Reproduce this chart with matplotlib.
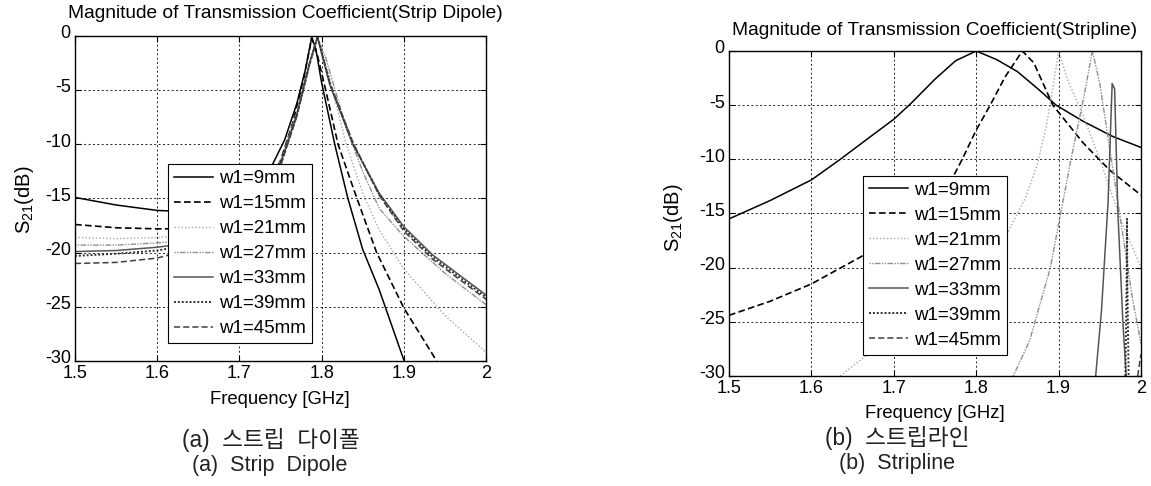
import matplotlib
matplotlib.use("Agg")
import matplotlib.pyplot as plt
from matplotlib.transforms import ScaledTranslation

plt.rcParams['font.family'] = ['Liberation Sans', 'Noto Sans CJK KR', 'DejaVu Sans']
plt.rcParams['mathtext.default'] = 'regular'
plt.rcParams['axes.unicode_minus'] = False

# ---------------- data ----------------
width_labels = ["w1=9mm", "w1=15mm", "w1=21mm", "w1=27mm", "w1=33mm", "w1=39mm", "w1=45mm"]
x_ticks = [1.5, 1.6, 1.7, 1.8, 1.9, 2.0]
x_tick_labels = ["1.5", "1.6", "1.7", "1.8", "1.9", "2"]
y_ticks = [0, -5, -10, -15, -20, -25, -30]

# Strip dipole, S21 [dB] versus frequency [GHz]
dip_f_9 = [1.50, 1.55, 1.60, 1.63, 1.67, 1.70, 1.72, 1.74, 1.755, 1.77, 1.78, 1.788, 1.793, 1.80, 1.816, 1.832, 1.85, 1.87, 1.90]
dip_s_9 = [-14.9, -15.6, -16.1, -16.2, -15.8, -15.0, -13.8, -11.9, -9.6, -6.2, -3.2, -0.1, -1.2, -4.3, -10.0, -15.0, -19.7, -23.4, -29.9]
dip_f_15 = [1.50, 1.55, 1.60, 1.63, 1.67, 1.70, 1.73, 1.75, 1.765, 1.778, 1.788, 1.795, 1.805, 1.82, 1.843, 1.867, 1.90, 1.94]
dip_s_15 = [-17.4, -17.7, -17.8, -17.8, -17.3, -16.4, -14.5, -11.5, -8.0, -4.0, -0.2, -1.8, -5.0, -10.0, -15.0, -20.0, -25.1, -30.0]
dip_f_21 = [1.50, 1.55, 1.60, 1.63, 1.67, 1.70, 1.73, 1.75, 1.77, 1.785, 1.795, 1.805, 1.83, 1.85, 1.87, 1.90, 1.95, 2.00]
dip_s_21 = [-18.6, -18.7, -18.6, -18.4, -17.8, -16.8, -14.5, -11.5, -7.0, -2.5, -0.2, -2.5, -10.0, -14.5, -17.9, -21.5, -25.8, -29.2]
dip_f_27 = [1.50, 1.55, 1.60, 1.63, 1.67, 1.70, 1.73, 1.75, 1.77, 1.785, 1.795, 1.805, 1.83, 1.85, 1.87, 1.90, 1.95, 2.00]
dip_s_27 = [-19.3, -19.3, -19.1, -18.9, -18.2, -17.2, -14.8, -11.7, -7.1, -2.6, -0.1, -2.0, -8.5, -12.5, -15.9, -18.5, -21.9, -24.8]
dip_f_33 = [1.50, 1.55, 1.60, 1.63, 1.67, 1.70, 1.73, 1.75, 1.77, 1.785, 1.795, 1.81, 1.838, 1.87, 1.90, 1.935, 1.97, 2.00]
dip_s_33 = [-19.9, -19.8, -19.5, -19.2, -18.5, -17.4, -15.0, -11.8, -7.2, -2.6, -0.1, -4.5, -10.0, -14.5, -17.6, -20.2, -22.2, -23.9]
dip_f_39 = [1.50, 1.55, 1.60, 1.63, 1.67, 1.70, 1.73, 1.75, 1.77, 1.785, 1.795, 1.81, 1.838, 1.87, 1.90, 1.935, 1.97, 2.00]
dip_s_39 = [-20.3, -20.1, -19.8, -19.4, -18.7, -17.6, -15.1, -11.9, -7.3, -2.7, -0.1, -4.4, -9.9, -14.6, -17.8, -20.4, -22.4, -24.1]
dip_f_45 = [1.50, 1.55, 1.60, 1.63, 1.67, 1.70, 1.73, 1.75, 1.77, 1.785, 1.795, 1.81, 1.838, 1.87, 1.90, 1.935, 1.97, 2.00]
dip_s_45 = [-21.0, -20.9, -20.5, -19.9, -19.0, -17.8, -15.2, -12.0, -7.4, -2.7, -0.1, -4.3, -9.8, -14.7, -18.0, -20.6, -22.6, -24.3]

# Stripline, S21 [dB] versus frequency [GHz]
sl_f_9 = [1.50, 1.55, 1.60, 1.635, 1.67, 1.70, 1.72, 1.75, 1.775, 1.80, 1.825, 1.85, 1.875, 1.897, 1.93, 1.966, 2.00]
sl_s_9 = [-15.5, -13.8, -11.9, -10.0, -8.0, -6.3, -4.9, -2.6, -0.9, 0.0, -0.8, -1.9, -3.5, -5.0, -6.5, -7.9, -8.9]
sl_f_15 = [1.50, 1.55, 1.60, 1.66, 1.70, 1.74, 1.772, 1.783, 1.80, 1.817, 1.835, 1.856, 1.87, 1.893, 1.93, 1.962, 2.00]
sl_s_15 = [-24.4, -23.1, -21.5, -19.0, -17.0, -14.3, -11.6, -10.0, -7.3, -5.0, -2.4, 0.0, -1.1, -5.0, -8.5, -11.0, -13.3]
sl_f_21 = [1.635, 1.66, 1.70, 1.75, 1.80, 1.838, 1.86, 1.874, 1.885, 1.895, 1.90, 1.91, 1.93, 1.95, 1.975, 2.00]
sl_s_21 = [-30.0, -28.5, -26.3, -23.3, -19.8, -16.8, -13.5, -10.5, -7.0, -2.5, 0.0, -2.5, -6.0, -10.0, -15.5, -20.0]
sl_f_27 = [1.845, 1.865, 1.89, 1.915, 1.93, 1.941, 1.95, 1.96, 1.97, 1.98, 1.99, 2.00]
sl_s_27 = [-30.0, -26.7, -20.0, -10.0, -4.5, 0.0, -3.0, -8.0, -13.0, -18.0, -23.0, -27.0]
sl_f_33 = [1.945, 1.952, 1.960, 1.965, 1.968, 1.972, 1.978, 1.982]
sl_s_33 = [-30.0, -24.0, -14.0, -3.0, -3.5, -15.0, -25.0, -30.0]
sl_f_39 = [1.981, 1.9825, 1.983, 1.9835, 1.985]
sl_s_39 = [-30.0, -22.0, -15.5, -22.0, -30.0]
sl_f_45 = [1.996, 2.00]
sl_s_45 = [-30.0, -28.0]

# ---------------- styles ----------------
styles = [
    dict(color="black", ls="-", lw=1.1),
    dict(color="black", ls=(0, (4, 2)), lw=1.2),
    dict(color="#a8a8a8", ls=(0, (1, 1.5)), lw=1.0),
    dict(color="#909090", ls=(0, (1, 1, 1, 1, 4, 1)), lw=1.0),
    dict(color="#555555", ls="-", lw=1.1),
    dict(color="#303030", ls=(0, (1, 1)), lw=1.4),
    dict(color="#404040", ls=(0, (4, 2)), lw=1.1),
]

fig = plt.figure(figsize=(11.51, 4.86), dpi=100)
W, H = 1151, 486


def px_axes(x0, y0, x1, y1):
    return fig.add_axes([x0 / W, 1 - y1 / H, (x1 - x0) / W, (y1 - y0) / H])


def ftext(x, y, s, **kw):
    fig.text(x / W, 1 - y / H, s, ha="center", va="center", **kw)


def style_axes(ax):
    ax.set_xlim(1.5, 2.0)
    ax.set_ylim(-30, 0)
    ax.set_xticks(x_ticks)
    ax.set_xticklabels(x_tick_labels)
    ax.set_yticks(y_ticks)
    ax.tick_params(direction="in", length=4, width=0.8, labelsize=13,
                   top=True, right=True)
    ax.tick_params(axis="x", pad=3)
    ax.tick_params(axis="y", pad=3)
    # lift the y tick labels a little so "-30" clears the "1.5" below it
    lift = ScaledTranslation(0, 3 / 72, fig.dpi_scale_trans)
    for lbl in ax.get_yticklabels():
        lbl.set_transform(lbl.get_transform() + lift)
    ax.grid(True, color="#222222", ls=(0, (2, 2.5)), lw=0.7)
    for sp in ax.spines.values():
        sp.set_linewidth(1.0)
        sp.set_color("black")


def add_legend(ax, anchor):
    ax.legend(loc="lower left", bbox_to_anchor=anchor, fontsize=13.5,
              frameon=True, fancybox=False, edgecolor="black",
              framealpha=1.0, handlelength=2.1, handletextpad=0.3,
              labelspacing=0.42, borderpad=0.32, borderaxespad=0.0)
    ax.get_legend().get_frame().set_linewidth(0.8)


# ---- strip dipole ----
ax1 = px_axes(75, 36, 486, 361)
dip_f = [dip_f_9, dip_f_15, dip_f_21, dip_f_27, dip_f_33, dip_f_39, dip_f_45]
dip_s = [dip_s_9, dip_s_15, dip_s_21, dip_s_27, dip_s_33, dip_s_39, dip_s_45]
for f, s, lab, st in zip(dip_f, dip_s, width_labels, styles):
    ax1.plot(f, s, label=lab, **st)
style_axes(ax1)
add_legend(ax1, (0.226, 0.055))

# ---- stripline ----
ax2 = px_axes(729, 51, 1141, 376)
sl_f = [sl_f_9, sl_f_15, sl_f_21, sl_f_27, sl_f_33, sl_f_39, sl_f_45]
sl_s = [sl_s_9, sl_s_15, sl_s_21, sl_s_27, sl_s_33, sl_s_39, sl_s_45]
for f, s, lab, st in zip(sl_f, sl_s, width_labels, styles):
    ax2.plot(f, s, label=lab, **st)
style_axes(ax2)
add_legend(ax2, (0.325, 0.065))

# ---- titles, axis labels, captions ----
ftext(285, 14, "Magnitude of Transmission Coefficient(Strip Dipole)", fontsize=13.8)
ftext(935, 30, "Magnitude of Transmission Coefficient(Stripline)", fontsize=13.8)
ftext(280, 399, "Frequency [GHz]", fontsize=13.3)
ftext(935, 413, "Frequency [GHz]", fontsize=13.3)
ftext(24, 200, "S$_{21}$(dB)", fontsize=14.5, rotation=90)
ftext(673, 218, "S$_{21}$(dB)", fontsize=14.5, rotation=90)
ftext(271, 440, "(a)  스트립  다이폴", fontsize=16.3, color="#222222")
ftext(270, 465, "(a)  Strip  Dipole", fontsize=15.5, color="#222222")
ftext(897, 438, "(b)  스트립라인", fontsize=16.3, color="#222222")
ftext(897, 463, "(b)  Stripline", fontsize=15.5, color="#222222")

fig.savefig("out.png", dpi=100, facecolor="white")
